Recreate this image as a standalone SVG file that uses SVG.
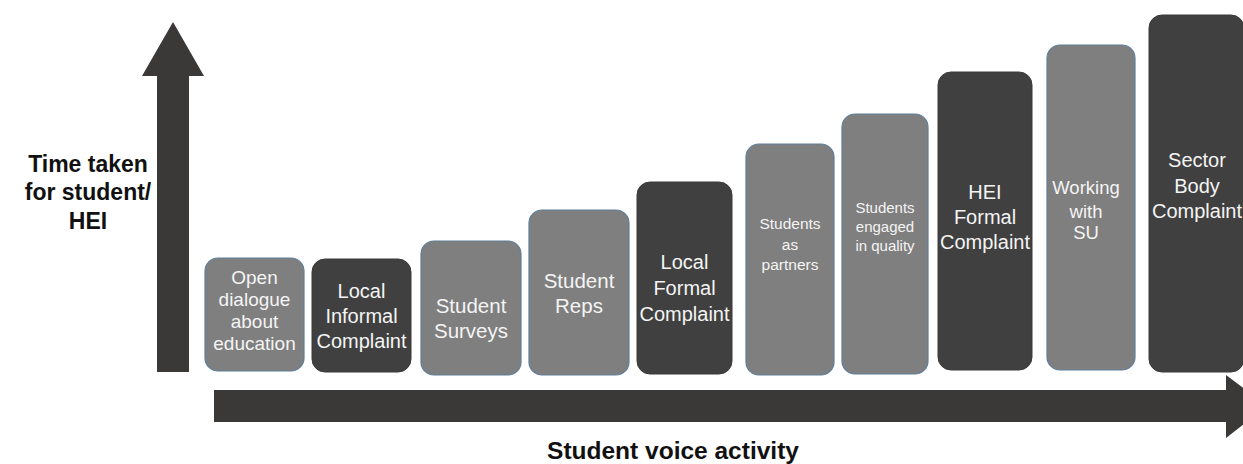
<svg xmlns="http://www.w3.org/2000/svg" width="1243" height="464" viewBox="0 0 1243 464">
<style>
.light{fill:#7f7f7f;stroke:#5f7f9c;stroke-width:1.2}
.dark{fill:#404040;stroke:#3a3a3a;stroke-width:1}
.arrow{fill:#3b3838}
.t{font-family:"Liberation Sans",Arial,sans-serif;fill:#f4f4f4;text-anchor:middle}
.lab{font-family:"Liberation Sans",Arial,sans-serif;font-weight:bold;fill:#111;text-anchor:middle}
</style>
<rect width="1243" height="464" fill="#ffffff"/>
<g id="connectors">
<polygon class="arrow" points="157,372 157,76 142,76 173,22 204,76 189,76 189,372"/>
<polygon class="arrow" points="214,390 1226,390 1226,375 1267,406 1226,438 1226,422 214,422"/>
</g>
<g id="axis-y-label">
<text class="lab" font-size="23"><tspan x="88" y="172">Time taken</tspan><tspan x="88" y="200">for student/</tspan><tspan x="88" y="229">HEI</tspan></text>
</g>
<g id="axis-x-label">
<text class="lab" font-size="24.5" x="673" y="459">Student voice activity</text>
</g>
<g id="n1">
<rect class="light" x="205" y="258" width="99" height="113" rx="13"/>
<text class="t" font-size="19"><tspan x="254.5" y="284">Open</tspan><tspan x="254.5" y="306">dialogue</tspan><tspan x="254.5" y="328">about</tspan><tspan x="254.5" y="350">education</tspan></text>
</g>
<g id="n2">
<rect class="dark" x="312" y="259" width="99" height="113" rx="13"/>
<text class="t" font-size="20"><tspan x="361.5" y="298">Local</tspan><tspan x="361.5" y="323">Informal</tspan><tspan x="361.5" y="348">Complaint</tspan></text>
</g>
<g id="n3">
<rect class="light" x="421" y="241" width="100" height="134" rx="13"/>
<text class="t" font-size="20.5"><tspan x="471" y="313">Student</tspan><tspan x="471" y="338">Surveys</tspan></text>
</g>
<g id="n4">
<rect class="light" x="529" y="210" width="100" height="165" rx="13"/>
<text class="t" font-size="20.5"><tspan x="579" y="288">Student</tspan><tspan x="579" y="313">Reps</tspan></text>
</g>
<g id="n5">
<rect class="dark" x="637" y="182" width="95" height="192" rx="13"/>
<text class="t" font-size="20"><tspan x="684.5" y="269">Local</tspan><tspan x="684.5" y="295">Formal</tspan><tspan x="684.5" y="321">Complaint</tspan></text>
</g>
<g id="n6">
<rect class="light" x="746" y="144" width="88" height="231" rx="13"/>
<text class="t" font-size="15.5"><tspan x="790" y="229">Students</tspan><tspan x="790" y="250">as</tspan><tspan x="790" y="270">partners</tspan></text>
</g>
<g id="n7">
<rect class="light" x="842" y="114" width="86" height="260" rx="13"/>
<text class="t" font-size="15"><tspan x="885" y="213">Students</tspan><tspan x="885" y="232">engaged</tspan><tspan x="885" y="251">in quality</tspan></text>
</g>
<g id="n8">
<rect class="dark" x="938" y="72" width="94" height="298" rx="13"/>
<text class="t" font-size="20"><tspan x="985" y="199">HEI</tspan><tspan x="985" y="224">Formal</tspan><tspan x="985" y="249">Complaint</tspan></text>
</g>
<g id="n9">
<rect class="light" x="1047" y="45" width="88" height="325" rx="13"/>
<text class="t" font-size="18.5"><tspan x="1086" y="194">Working</tspan><tspan x="1086" y="218">with</tspan><tspan x="1086" y="239">SU</tspan></text>
</g>
<g id="n10">
<rect class="dark" x="1149" y="15" width="95" height="357" rx="13"/>
<text class="t" font-size="20"><tspan x="1197" y="167">Sector</tspan><tspan x="1197" y="193">Body</tspan><tspan x="1197" y="218">Complaint</tspan></text>
</g>
</svg>
